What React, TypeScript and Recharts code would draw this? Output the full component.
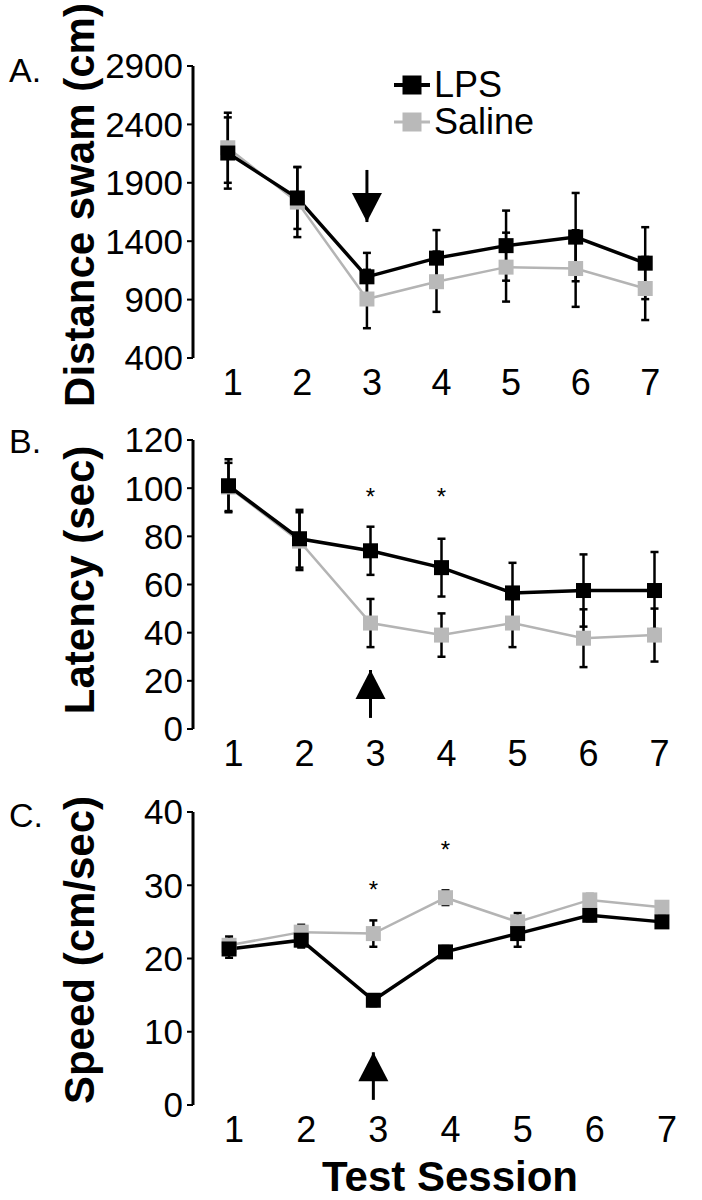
import React from 'react';
import {
  LineChart, Line, XAxis, YAxis, ErrorBar, ReferenceDot, ReferenceLine, Legend
} from 'recharts';

// sessions and band edges (ticks sit between sessions)
const sessions = [1, 2, 3, 4, 5, 6, 7];
const bandEdges = [0.5, 1.5, 2.5, 3.5, 4.5, 5.5, 6.5, 7.5];

// A. distance swam (cm)
const distanceTicks = [400, 900, 1400, 1900, 2400, 2900];
const distanceLps = [2155, 1770, 1095, 1255, 1362, 1435, 1212];
const distanceSaline = [2200, 1735, 905, 1053, 1178, 1166, 995];
const distanceLpsErr = [305, 265, 205, 240, 300, 378, 308];
const distanceSalineErr = [300, 300, 250, 258, 295, 328, 270];

// B. latency (sec)
const latencyTicks = [0, 20, 40, 60, 80, 100, 120];
const latencyLps = [101, 79, 74, 67, 56.5, 57.5, 57.5];
const latencySaline = [100.5, 78, 44, 39, 44, 37.7, 39];
const latencyLpsErr = [11, 12, 10, 12, 12.5, 15, 16];
const latencySalineErr = [10, 12, 10, 9, 10, 12, 11];

// C. speed (cm/sec)
const speedTicks = [0, 10, 20, 30, 40];
const speedLps = [21.3, 22.5, 14.3, 20.9, 23.4, 25.9, 25.0];
const speedSaline = [21.8, 23.6, 23.4, 28.3, 25.0, 28.0, 27.0];
const speedLpsErr = [1.2, 1, 0.8, 0.8, 1.8, 0.8, 0.8];
const speedSalineErr = [1.2, 1, 1.8, 1, 1.2, 0.8, 0.8];

// injection arrows (session, tip value, tail value) and significance marks
const arrowA = { session: 3, tip: 1564, tail: 2010 };
const arrowB = { session: 3, tip: 24.5, tail: 4.6 };
const arrowC = { session: 3, tip: 7.2, tail: 0.7 };
const starsB = [{ session: 3, y: 98.4 }, { session: 4, y: 98.4 }];
const starsC = [{ session: 3, y: 30.0 }, { session: 4, y: 35.5 }];

const FONT = '"Liberation Sans", Arial, sans-serif';
const GREY_LINE = '#b4b4b4';
const GREY_MARK = '#b9b9b9';

const buildRows = (lps: number[], saline: number[], lpsErr: number[], salineErr: number[]) =>
  sessions.map((s, i) => ({
    session: s, lps: lps[i], saline: saline[i], lpsErr: lpsErr[i], salineErr: salineErr[i],
  }));

const distanceRows = buildRows(distanceLps, distanceSaline, distanceLpsErr, distanceSalineErr);
const latencyRows = buildRows(latencyLps, latencySaline, latencyLpsErr, latencySalineErr);
const speedRows = buildRows(speedLps, speedSaline, speedLpsErr, speedSalineErr);

const square = (fill: string, size: number) => (p: any) => {
  if (p.cx == null || p.cy == null) return <g key={`e-${p.index}`} />;
  return (
    <rect key={`sq-${p.index}`} x={p.cx - size / 2} y={p.cy - size / 2}
      width={size} height={size} fill={fill} />
  );
};

const triangle = (dir: 'up' | 'down') => (p: any) => {
  const { cx, cy } = p;
  const w = 30, h = 29;
  const base = dir === 'down' ? cy - h : cy + h;
  return <polygon points={`${cx - w / 2},${base} ${cx + w / 2},${base} ${cx},${cy}`} fill="#000" />;
};

const star = (p: any) => (
  <text x={p.cx} y={p.cy + 13} textAnchor="middle" fontSize={24} fontFamily={FONT} fill="#000">*</text>
);

const axes = (ticks: number[]) => [
  <XAxis key="edge" xAxisId="edge" type="number" dataKey="session" domain={[0.5, 7.5]}
    ticks={bandEdges} interval={0} tick={false} tickSize={6} height={0}
    axisLine={{ stroke: '#000', strokeWidth: 3 }} tickLine={{ stroke: '#000', strokeWidth: 2 }} />,
  <XAxis key="num" xAxisId="num" type="number" dataKey="session" domain={[0.5, 7.5]}
    ticks={sessions} interval={0} tickSize={6} tickMargin={5} height={44}
    axisLine={false} tickLine={false} dx={5}
    tick={{ fill: '#000', fontSize: 36, fontFamily: FONT }} />,
  <YAxis key="y" type="number" domain={[ticks[0], ticks[ticks.length - 1]]} ticks={ticks}
    interval={0} width={120} tickSize={6} tickMargin={4}
    axisLine={{ stroke: '#000', strokeWidth: 3 }} tickLine={{ stroke: '#000', strokeWidth: 2 }}
    tick={{ fill: '#000', fontSize: 35, fontFamily: FONT }} />,
];

const series = () => [
  <Line key="saline" xAxisId="num" dataKey="saline" name="Saline" stroke={GREY_LINE} strokeWidth={2.5}
    dot={square(GREY_MARK, 15)} activeDot={false} isAnimationActive={false}>
    <ErrorBar dataKey="salineErr" width={4} stroke="#000" strokeWidth={2.5} direction="y" />
  </Line>,
  <Line key="lps" xAxisId="num" dataKey="lps" name="LPS" stroke="#000" strokeWidth={3.5}
    dot={square('#000', 15)} activeDot={false} isAnimationActive={false}>
    <ErrorBar dataKey="lpsErr" width={4} stroke="#000" strokeWidth={2.5} direction="y" />
  </Line>,
];

const arrow = (a: { session: number; tip: number; tail: number }, dir: 'up' | 'down') => [
  <ReferenceLine key="stem" xAxisId="num" segment={[{ x: a.session, y: a.tip }, { x: a.session, y: a.tail }]}
    stroke="#000" strokeWidth={3} />,
  <ReferenceDot key="head" xAxisId="num" x={a.session} y={a.tip} shape={triangle(dir)} />,
];

const stars = (list: { session: number; y: number }[]) =>
  list.map((s) => (
    <ReferenceDot key={`star-${s.session}`} xAxisId="num" x={s.session} y={s.y} shape={star} />
  ));

const legendRow = (color: string, lineW: number, label: string) => (
  <div style={{ display: 'flex', alignItems: 'center', height: 37 }}>
    <svg width={36} height={20}>
      <line x1={0} y1={10} x2={36} y2={10} stroke={color} strokeWidth={lineW} />
      <rect x={8.5} y={0.5} width={19} height={19} fill={color} />
    </svg>
    <span style={{ fontFamily: FONT, fontSize: 36, color: '#000', marginLeft: 4, lineHeight: '37px' }}>{label}</span>
  </div>
);

const rotatedLabel = (text: string, cx: number, cy: number) => (
  <div style={{
    position: 'absolute', left: cx, top: cy, transform: 'translate(-50%, -50%) rotate(-90deg)',
    fontFamily: FONT, fontWeight: 'bold', fontSize: 42, whiteSpace: 'nowrap', lineHeight: 1, color: '#000',
  }}>{text}</div>
);

const panelLetter = (text: string, top: number) => (
  <div style={{
    position: 'absolute', left: 9, top, transform: 'translateY(-50%)',
    fontFamily: FONT, fontSize: 34, lineHeight: 1, color: '#000',
  }}>{text}</div>
);

export default function App() {
  return (
    <div style={{ position: 'absolute', left: 0, top: 0, width: 702, height: 1200, background: '#fff', overflow: 'hidden' }}>
      <div style={{ position: 'absolute', left: 0, top: 0 }}>
        <LineChart width={702} height={402} data={distanceRows}
          margin={{ top: 66, right: 22, bottom: 0, left: 73 }}>
          {axes(distanceTicks)}
          {series()}
          {arrow(arrowA, 'down')}
          <Legend layout="vertical" align="center" verticalAlign="middle"
            wrapperStyle={{ top: 66, left: 394, width: 220, height: 74 }}
            content={() => (
              <div>
                {legendRow('#000', 4, 'LPS')}
                {legendRow(GREY_MARK, 3, 'Saline')}
              </div>
            )} />
        </LineChart>
      </div>

      <div style={{ position: 'absolute', left: 0, top: 400 }}>
        <LineChart width={702} height={373} data={latencyRows}
          margin={{ top: 40, right: 12, bottom: 0, left: 73 }}>
          {axes(latencyTicks)}
          {series()}
          {arrow(arrowB, 'up')}
          {stars(starsB)}
        </LineChart>
      </div>

      <div style={{ position: 'absolute', left: 0, top: 775 }}>
        <LineChart width={702} height={374} data={speedRows}
          margin={{ top: 37, right: 4, bottom: 0, left: 73 }}>
          {axes(speedTicks)}
          {series()}
          {arrow(arrowC, 'up')}
          {stars(starsC)}
        </LineChart>
      </div>

      {rotatedLabel('Distance swam (cm)', 80, 205)}
      {rotatedLabel('Latency (sec)', 80, 580)}
      {rotatedLabel('Speed (cm/sec)', 80, 950)}
      {panelLetter('A.', 70)}
      {panelLetter('B.', 441)}
      {panelLetter('C.', 815)}
      <div style={{
        position: 'absolute', left: 450, top: 1177, transform: 'translate(-50%, -50%)',
        fontFamily: FONT, fontWeight: 'bold', fontSize: 42, whiteSpace: 'nowrap', lineHeight: '38px',
      }}>Test Session</div>
    </div>
  );
}
